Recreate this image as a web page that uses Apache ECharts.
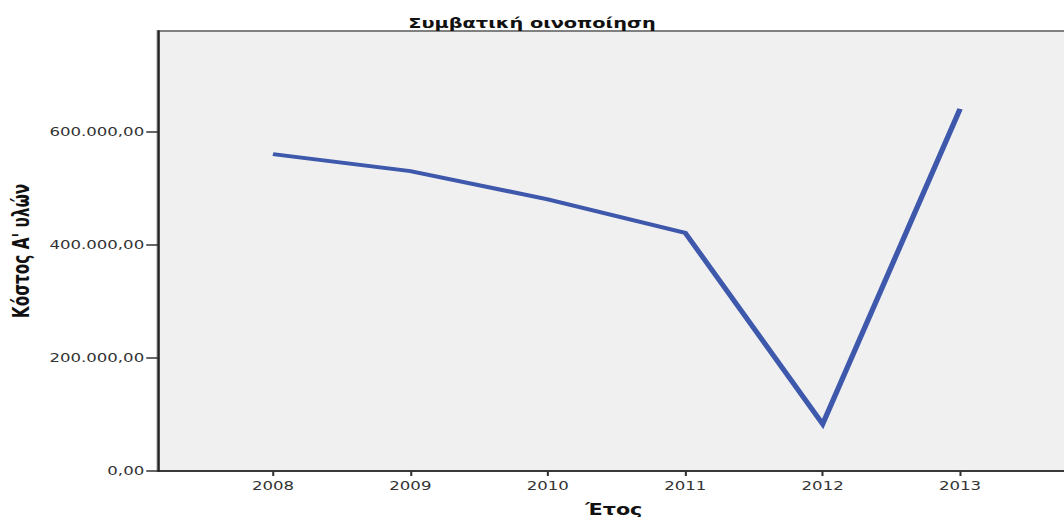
<!DOCTYPE html>
<html>
<head>
<meta charset="utf-8">
<script src="https://cdn.jsdelivr.net/npm/echarts@6/dist/echarts.min.js"></script>
<style>
  html, body { margin: 0; padding: 0; background: #fff; overflow: hidden; }
  #wrap { width: 1064px; height: 517px; overflow: hidden; position: relative; }
  #chart { position: absolute; left: 0; top: 0; height: 517px; transform-origin: 0 0; }
</style>
</head>
<body>
<div id="wrap"><div id="chart"></div></div>
<script>
// ---- data ----
const years = [2008, 2009, 2010, 2011, 2012, 2013];
const cost = [560000, 530000, 480000, 421000, 83000, 640000];
const yTicks = [0, 200000, 400000, 600000];
const titleText = 'Συμβατική οινοποίηση';
const xName = 'Έτος';
const yName = "Κόστος Α' υλών";

// the original picture is stretched horizontally
const S = 1.38;
const el = document.getElementById('chart');
const innerW = 1064 / S;
el.style.width = innerW + 'px';
el.style.transform = 'scaleX(' + S + ')';

function fmt(v) {
  const s = Math.round(v).toString().replace(/\B(?=(\d{3})+(?!\d))/g, '.');
  return s + ',00';
}

const chart = echarts.init(el, null, { renderer: 'svg', width: innerW, height: 517 });
chart.setOption({
  animation: false,
  backgroundColor: '#ffffff',
  title: {
    text: titleText,
    left: 'center',
    top: 11,
    textStyle: { fontFamily: 'DejaVu Sans', fontWeight: 'bold', fontSize: 14, color: '#111' }
  },
  grid: {
    left: 158 / S, top: 31, bottom: 46, right: -4,
    outerBoundsMode: 'none',
    containLabel: false,
    show: true, backgroundColor: '#f0f0f0', borderColor: '#808080', borderWidth: 2
  },
  xAxis: {
    type: 'value',
    min: 2008 - (273 - 158) / 137.5,
    max: 2013 + (1069.5 - 960) / 137.5,
    interval: 1,
    name: xName,
    nameLocation: 'middle',
    nameGap: 31,
    nameTextStyle: { fontFamily: 'DejaVu Sans', fontWeight: 'bold', fontSize: 15, color: '#111' },
    axisLine: { show: true, onZero: false, lineStyle: { color: '#222', width: 1.5 } },
    axisTick: { show: true, length: 5, lineStyle: { color: '#333', width: 1.5 },
      customValues: years },
    axisLabel: { margin: 9, fontFamily: 'DejaVu Sans', fontSize: 12, color: '#333',
      customValues: years, formatter: v => String(v) },
    splitLine: { show: false }
  },
  yAxis: {
    type: 'value',
    min: 0,
    max: 777600,
    interval: 200000,
    name: yName,
    nameLocation: 'middle',
    nameGap: 91,
    nameTextStyle: { fontFamily: 'DejaVu Sans Condensed', fontWeight: 'bold', fontSize: 17, color: '#111' },
    axisLine: { show: true, lineStyle: { color: '#222', width: 1.5 } },
    axisTick: { show: true, length: 8.5, lineStyle: { color: '#333', width: 1.5 },
      customValues: yTicks },
    axisLabel: { margin: 10, fontFamily: 'DejaVu Sans', fontSize: 12, color: '#333',
      customValues: yTicks, formatter: v => fmt(v) },
    splitLine: { show: false }
  },
  series: [{
    type: 'line',
    data: years.map((y, i) => [y, cost[i]]),
    symbol: 'none',
    lineStyle: { color: '#3e58ac', width: 4, cap: 'butt', join: 'miter' },
    silent: true
  }]
});
</script>
</body>
</html>
